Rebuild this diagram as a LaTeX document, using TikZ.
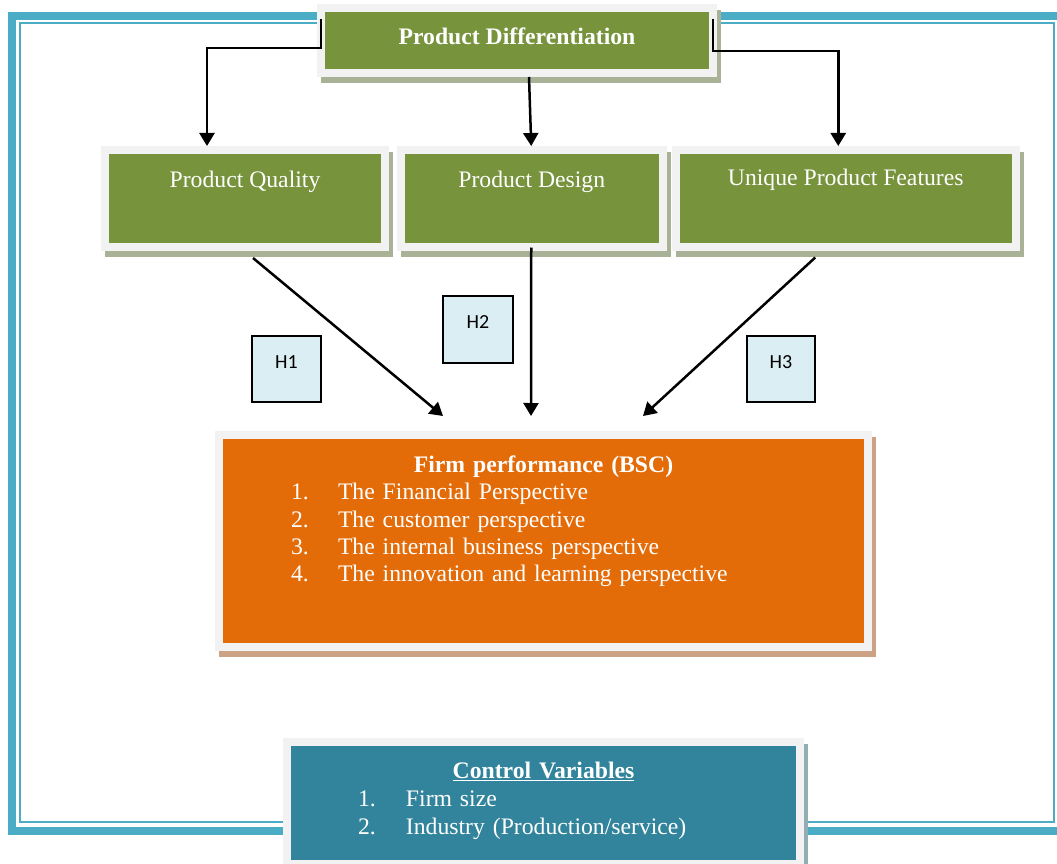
\documentclass[tikz,border=0pt]{standalone}
\usepackage{fontspec}
\setmainfont{Liberation Serif}
\newfontfamily\hfont{Carlito}
\usetikzlibrary{arrows.meta}
\definecolor{teal1}{HTML}{4BACC6}
\definecolor{pgreen}{HTML}{77933C}
\definecolor{frameg}{HTML}{F2F2F2}
\definecolor{gshadow}{HTML}{A9B196}
\definecolor{porange}{HTML}{E36C09}
\definecolor{oshadow}{HTML}{CDA284}
\definecolor{pteal}{HTML}{31849B}
\definecolor{tshadow}{HTML}{93ADB4}
\definecolor{hfill}{HTML}{DAEEF3}
\tikzset{
  framebox/.style={rectangle, draw=frameg, line width=8pt, inner sep=0pt, outer sep=0pt, text=white,
    preaction={draw=#1, fill=#1, line width=8pt, transform canvas={xshift=4pt,yshift=-6pt}}},
  greenbox/.style={framebox=gshadow, fill=pgreen, font=\fontsize{23.7}{27.3}\selectfont},
  hbox/.style={rectangle, draw=black, line width=1.6pt, fill=hfill, inner sep=0pt, outer sep=0pt,
    font=\hfont\fontsize{20}{24}\selectfont, text height=32pt},
  arr/.style={line width=2.5pt, -{Triangle[length=13pt,width=15pt]}},
}
\begin{document}
\begin{tikzpicture}[x=1pt,y=-1pt]
\useasboundingbox (0,0) rectangle (1057,864);
\clip (0,0) rectangle (1057,864);
% page border
\draw[teal1, line width=8pt] (12,16) rectangle (1070,831);
\draw[teal1, line width=2pt] (20,23.5) rectangle (1054,822);
% boxes
\node[greenbox, minimum width=392pt, text height=37pt, text depth=28pt, anchor=north west]
  (top) at (321,8) {\bfseries Product Differentiation};
\node[greenbox, minimum width=280pt, text height=37pt, text depth=59.5pt, anchor=north west]
  (pq) at (105,150) {Product Quality};
\node[greenbox, minimum width=262.5pt, text height=37pt, text depth=59.5pt, anchor=north west]
  (pd) at (400.5,150) {Product Design};
\node[greenbox, minimum width=340.5pt, text height=35pt, text depth=61.5pt, anchor=north west]
  (upf) at (675.5,150) {Unique Product Features};
\node[framebox=oshadow, fill=porange, text width=649pt, align=left,
  font=\fontsize{23.7}{27.3}\selectfont, text height=37.5pt, text depth=174.5pt, anchor=north west]
  (bsc) at (219,435) {\centering\bfseries Firm performance (BSC)\par
  \raggedright\mdseries
  \hspace*{72pt}\makebox[47pt][l]{1.}The Financial Perspective\\
  \hspace*{72pt}\makebox[47pt][l]{2.}The customer perspective\\
  \hspace*{72pt}\makebox[47pt][l]{3.}The internal business perspective\\
  \hspace*{72pt}\makebox[47pt][l]{4.}The innovation and learning perspective};
\node[framebox=tshadow, fill=pteal, text width=513pt, align=left,
  font=\fontsize{23.7}{28}\selectfont, text height=36pt, text depth=86pt, anchor=north west]
  (cv) at (287,742) {\centering\bfseries\underline{Control Variables}\par
  \raggedright\mdseries
  \hspace*{71pt}\makebox[48pt][l]{1.}Firm size\\
  \hspace*{71pt}\makebox[48pt][l]{2.}Industry (Production/service)};
% hypothesis labels
\node[hbox, minimum width=69pt, text depth=34pt, anchor=north west] (h1) at (252,336) {H1};
\node[hbox, minimum width=70pt, text depth=35pt, anchor=north west] (h2) at (443,296) {H2};
\node[hbox, minimum width=68pt, text depth=34pt, anchor=north west] (h3) at (747,336) {H3};
% connectors
\draw[arr] ([yshift=-11pt]top.north west) -- ++(0,29) -| ([xshift=-38pt,yshift=4pt]pq.north);
\draw[arr] ([yshift=-11pt]top.north east) -- ++(0,32) -| ([xshift=-7.5pt,yshift=4pt]upf.north);
\draw[arr] ([xshift=12pt,yshift=-4pt]top.south) -- ([xshift=-0.5pt,yshift=4pt]pd.north);
\draw[arr] ([xshift=8pt,yshift=-11.5pt]pq.south) -- ([xshift=-100.5pt,yshift=19pt]bsc.north);
\draw[arr] ([xshift=-0.5pt,yshift=-1pt]pd.south) -- ([xshift=-12.5pt,yshift=19pt]bsc.north);
\draw[arr] ([xshift=-30.5pt,yshift=-11pt]upf.south) -- ([xshift=99.5pt,yshift=19pt]bsc.north);
\end{tikzpicture}
\end{document}
